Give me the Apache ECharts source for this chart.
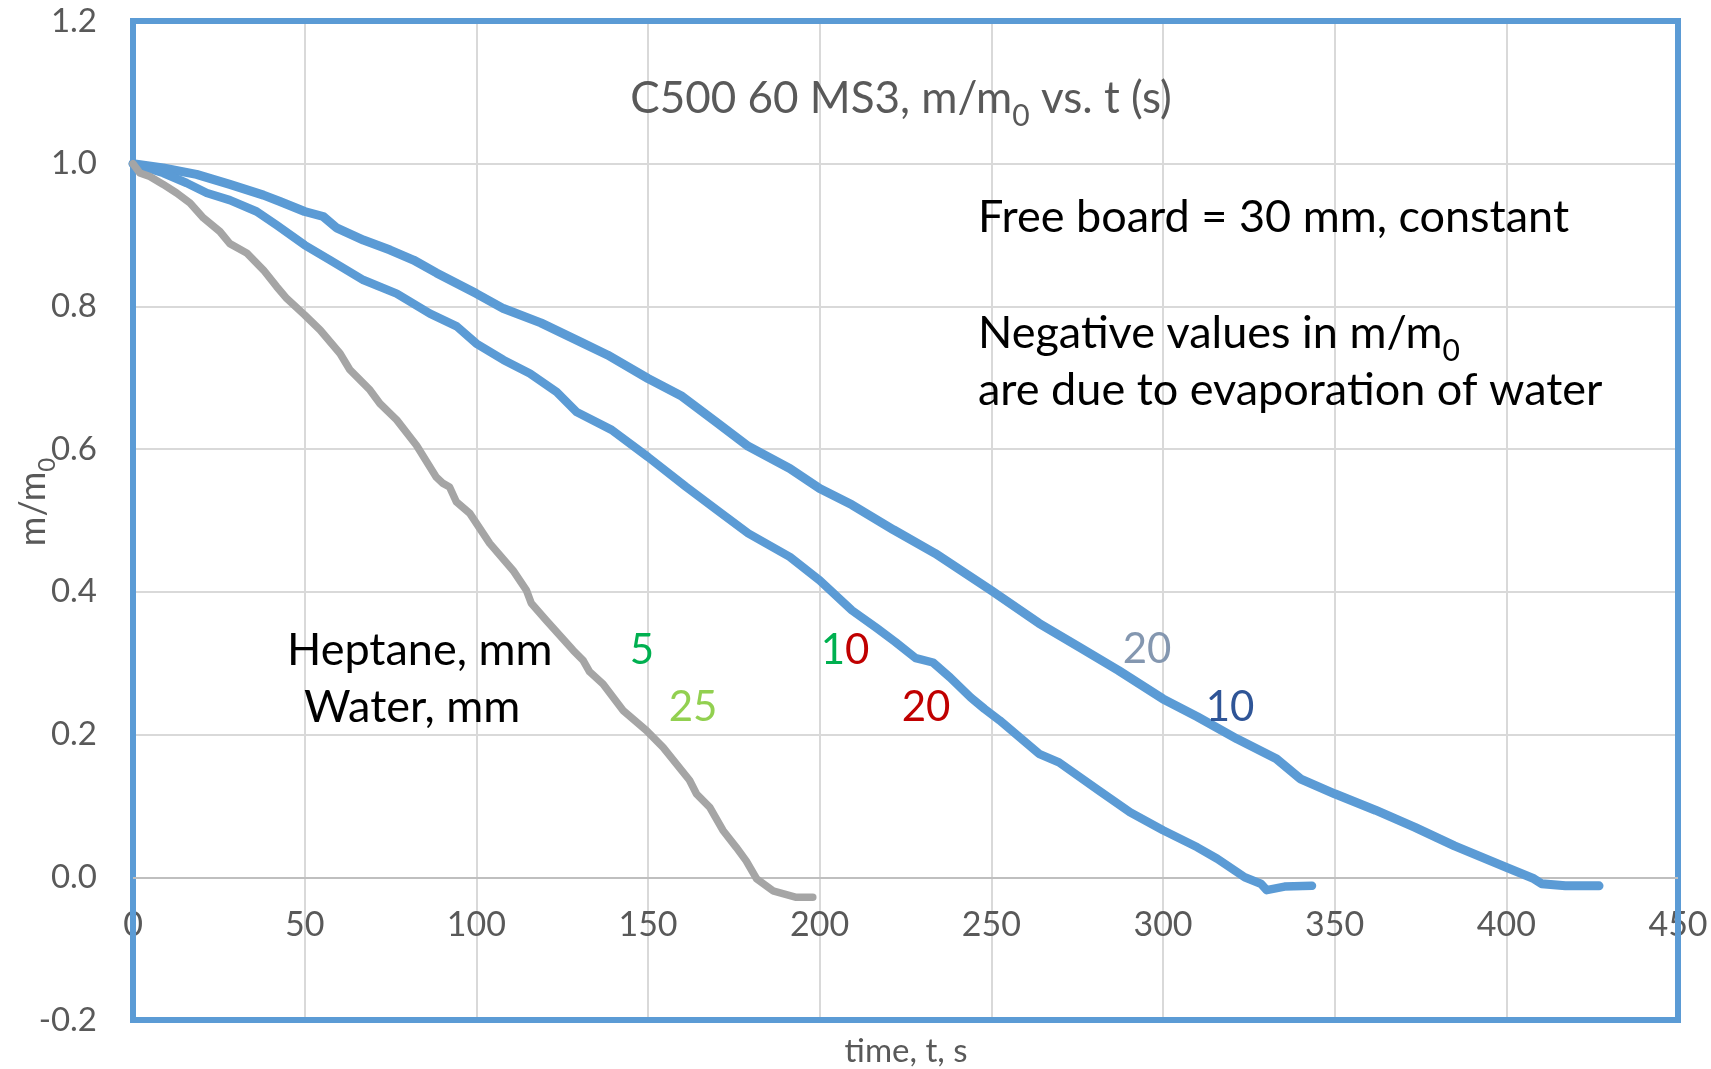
<!DOCTYPE html>
<html>
<head>
<meta charset="utf-8">
<script src="https://cdn.jsdelivr.net/npm/echarts@6/dist/echarts.min.js"></script>
<style>
  html, body { margin: 0; padding: 0; background: #ffffff; }
  #chart { width: 1711px; height: 1069px; }
</style>
</head>
<body>
<div id="chart"></div>
<script>
// Relative mass m/m0 against time t (s), C500 60 MS3, free board 30 mm

// Heptane 5 mm / water 25 mm
const tHep5 = [0, 2, 4.9, 8.8, 12.7, 16.6, 20.5, 25.3, 28.2, 33.1, 38, 41.8, 44.8, 50, 54.5, 60.3, 63.2, 69, 71.9, 76.8,
  82.6, 88.3, 90.3, 92.2, 94.2, 98.1, 103.9, 110.7, 114.6, 116, 120.4, 128.2, 131.1, 133, 136.9, 142.7, 149.5, 154.4,
  162.1, 164.1, 168, 171.8, 175.7, 178.6, 181.6, 186.4, 193.2, 198];
const mHep5 = [1.0, 0.987, 0.982, 0.971, 0.959, 0.945, 0.924, 0.905, 0.888, 0.875, 0.851, 0.828, 0.811, 0.788, 0.767, 0.734,
  0.711, 0.683, 0.664, 0.641, 0.605, 0.561, 0.552, 0.547, 0.526, 0.51, 0.468, 0.43, 0.402, 0.384, 0.36, 0.318, 0.304,
  0.288, 0.271, 0.234, 0.206, 0.182, 0.136, 0.117, 0.098, 0.066, 0.042, 0.023, -0.002, -0.019, -0.028, -0.028];

// Heptane 10 mm / water 20 mm
const tHep10 = [0, 8.8, 15.6, 21.5, 28.2, 36, 41.8, 50, 57.4, 67.1, 76.8, 86.5, 94.3, 100, 107.9, 115.6, 123.4, 129.2,
  139.4, 150, 161.1, 170.8, 179.2, 191.3, 200, 209.4, 216.7, 222, 228, 233, 238, 244, 248, 252.4, 263.9, 269.7, 281.2,
  290.4, 300, 310, 315.8, 323.8, 328.5, 330.2, 335.4, 343.4];
const mHep10 = [1.0, 0.987, 0.973, 0.959, 0.949, 0.933, 0.914, 0.886, 0.865, 0.837, 0.818, 0.79, 0.772, 0.748, 0.725,
  0.706, 0.68, 0.652, 0.627, 0.589, 0.547, 0.512, 0.482, 0.449, 0.416, 0.374, 0.349, 0.33, 0.307, 0.301, 0.28, 0.252,
  0.236, 0.22, 0.173, 0.161, 0.122, 0.091, 0.066, 0.042, 0.026, 0.0, -0.009, -0.018, -0.013, -0.012];

// Heptane 20 mm / water 10 mm
const tHep20 = [0, 8.8, 18.5, 28.2, 38, 42.8, 50, 55.4, 59.3, 67.1, 74.9, 81.7, 88.4, 100, 107.9, 118.8, 130.9, 138.2,
  150, 159.9, 169.6, 179.2, 191.3, 200, 209.4, 221.5, 233.6, 250, 263.9, 275.5, 287, 300, 310, 321.5, 333, 340, 350,
  361.9, 373.4, 384.9, 400, 408, 410.3, 417.2, 427];
const mHep20 = [1.0, 0.994, 0.985, 0.971, 0.956, 0.947, 0.933, 0.926, 0.91, 0.893, 0.879, 0.865, 0.847, 0.818, 0.797,
  0.777, 0.749, 0.732, 0.699, 0.674, 0.639, 0.604, 0.573, 0.545, 0.522, 0.487, 0.454, 0.402, 0.356, 0.323, 0.29, 0.25,
  0.225, 0.194, 0.166, 0.138, 0.117, 0.094, 0.07, 0.044, 0.014, -0.002, -0.009, -0.012, -0.012];

// Axis ticks
const xTicks = [0, 50, 100, 150, 200, 250, 300, 350, 400, 450];
const yTicks = [-0.2, 0, 0.2, 0.4, 0.6, 0.8, 1.0, 1.2];

const FONT = 'Lato, "Open Sans", sans-serif';
const BLUE = '#5B9BD5';
const GRAY = '#A5A5A5';
const AXIS_TEXT = '#595959';

// page and plot-area layout
const PAGE_W = 1711, PAGE_H = 1069;
const GRID = { left: 133, top: 21, right: 33, bottom: 49 };

function pairs(ts, ms) { return ts.map((t, i) => [t, ms[i]]); }

function lineSeries(name, ts, ms, color, width) {
  return {
    name: name,
    type: 'line',
    data: pairs(ts, ms),
    showSymbol: false,
    symbol: 'none',
    clip: false,
    z: 3,
    lineStyle: { color: color, width: width, cap: 'round', join: 'round' },
    emphasis: { disabled: true },
    animation: false
  };
}

// text helper; rich styles carry their own font so subscripts render correctly
function rs(size, color, extra) {
  return Object.assign({ fontFamily: FONT, fontSize: size, fill: color }, extra || {});
}

const chart = echarts.init(document.getElementById('chart'), null, { renderer: 'canvas' });

const seriesList = [
  lineSeries('Heptane 20 mm, water 10 mm', tHep20, mHep20, BLUE, 9),
  lineSeries('Heptane 10 mm, water 20 mm', tHep10, mHep10, BLUE, 8.5),
  lineSeries('Heptane 5 mm, water 25 mm', tHep5, mHep5, GRAY, 7.5)
];
// horizontal axis line through m/m0 = 0
seriesList[0].markLine = {
  silent: true,
  symbol: ['none', 'none'],
  label: { show: false },
  lineStyle: { color: '#BFBFBF', width: 2, type: 'solid' },
  emphasis: { disabled: true },
  animation: false,
  z: 1,
  data: [{ yAxis: 0 }]
};

chart.setOption({
  backgroundColor: '#ffffff',
  animation: false,
  grid: Object.assign({ outerBoundsMode: 'none', containLabel: false, show: false }, GRID),
  xAxis: {
    type: 'value',
    min: xTicks[0],
    max: xTicks[xTicks.length - 1],
    interval: 50,
    axisLine: { show: false, onZero: false },
    axisTick: { show: false },
    // tick labels sit just under the m/m0 = 0 line
    axisLabel: { fontFamily: FONT, fontSize: 34, color: AXIS_TEXT, margin: -112,
      showMinLabel: true, showMaxLabel: true, hideOverlap: false },
    splitLine: { show: true, lineStyle: { color: '#D9D9D9', width: 2 } }
  },
  yAxis: {
    type: 'value',
    min: yTicks[0],
    max: yTicks[yTicks.length - 1],
    interval: 0.2,
    axisLine: { show: true, onZero: false, lineStyle: { color: '#BFBFBF', width: 2 } },
    axisTick: { show: false },
    axisLabel: { fontFamily: FONT, fontSize: 33, color: AXIS_TEXT, margin: 36,
      formatter: v => v.toFixed(1) },
    splitLine: { show: true, lineStyle: { color: '#D9D9D9', width: 2 } }
  },
  series: seriesList,
  graphic: [
    // plot-area frame
    { type: 'rect', z: 1, silent: true,
      shape: { x: GRID.left, y: GRID.top,
        width: PAGE_W - GRID.left - GRID.right, height: PAGE_H - GRID.top - GRID.bottom },
      style: { fill: null, stroke: BLUE, lineWidth: 6 } },
    // chart title
    { type: 'text', x: 901, y: 99, z: 100, style: {
      text: '{a|C500 60 MS3, m/m}{s|0}{a| vs. t (s)}',
      align: 'center', verticalAlign: 'middle',
      rich: { a: rs(44, AXIS_TEXT, { lineHeight: 64 }), s: rs(30, AXIS_TEXT, { lineHeight: 30, verticalAlign: 'bottom' }) }
    } },
    // notes
    { type: 'text', x: 978, y: 217, z: 100, style: {
      text: 'Free board = 30 mm, constant', align: 'left', verticalAlign: 'middle',
      fontFamily: FONT, fontSize: 45, fill: '#000000'
    } },
    { type: 'text', x: 978, y: 333, z: 100, style: {
      text: '{a|Negative values in m/m}{s|0}', align: 'left', verticalAlign: 'middle',
      rich: { a: rs(45, '#000000', { lineHeight: 66 }), s: rs(30, '#000000', { lineHeight: 30, verticalAlign: 'bottom' }) }
    } },
    { type: 'text', x: 978, y: 390, z: 100, style: {
      text: 'are due to evaporation of water', align: 'left', verticalAlign: 'middle',
      fontFamily: FONT, fontSize: 45, fill: '#000000'
    } },
    // depth labels
    { type: 'text', x: 287, y: 650, z: 100, style: {
      text: 'Heptane, mm', align: 'left', verticalAlign: 'middle',
      fontFamily: FONT, fontSize: 45, fill: '#000000'
    } },
    { type: 'text', x: 304, y: 707, z: 100, style: {
      text: 'Water, mm', align: 'left', verticalAlign: 'middle',
      fontFamily: FONT, fontSize: 45, fill: '#000000'
    } },
    { type: 'text', x: 642, y: 650, z: 100, style: {
      text: '5', align: 'center', verticalAlign: 'middle', fontFamily: FONT, fontSize: 42, fill: '#00B050'
    } },
    { type: 'text', x: 693, y: 707, z: 100, style: {
      text: '25', align: 'center', verticalAlign: 'middle', fontFamily: FONT, fontSize: 42, fill: '#92D050'
    } },
    { type: 'text', x: 845, y: 650, z: 100, style: {
      text: '{g|1}{r|0}', align: 'center', verticalAlign: 'middle',
      rich: { g: rs(42, '#00B050'), r: rs(42, '#C00000') }
    } },
    { type: 'text', x: 926, y: 707, z: 100, style: {
      text: '20', align: 'center', verticalAlign: 'middle', fontFamily: FONT, fontSize: 42, fill: '#C00000'
    } },
    { type: 'text', x: 1147, y: 649, z: 100, style: {
      text: '20', align: 'center', verticalAlign: 'middle', fontFamily: FONT, fontSize: 42, fill: '#8497B0'
    } },
    { type: 'text', x: 1230, y: 707, z: 100, style: {
      text: '10', align: 'center', verticalAlign: 'middle', fontFamily: FONT, fontSize: 42, fill: '#2F5597'
    } },
    // axis titles
    { type: 'text', x: 906, y: 1051, z: 100, style: {
      text: 'time, t, s', align: 'center', verticalAlign: 'middle', fontFamily: FONT, fontSize: 33, fill: AXIS_TEXT
    } },
    { type: 'text', x: 33, y: 502, rotation: Math.PI / 2, z: 100, style: {
      text: '{a|m/m}{s|0}', align: 'center', verticalAlign: 'middle',
      rich: { a: rs(36, AXIS_TEXT, { lineHeight: 52 }), s: rs(24, AXIS_TEXT, { lineHeight: 24, verticalAlign: 'bottom' }) }
    } }
  ]
});
</script>
</body>
</html>
